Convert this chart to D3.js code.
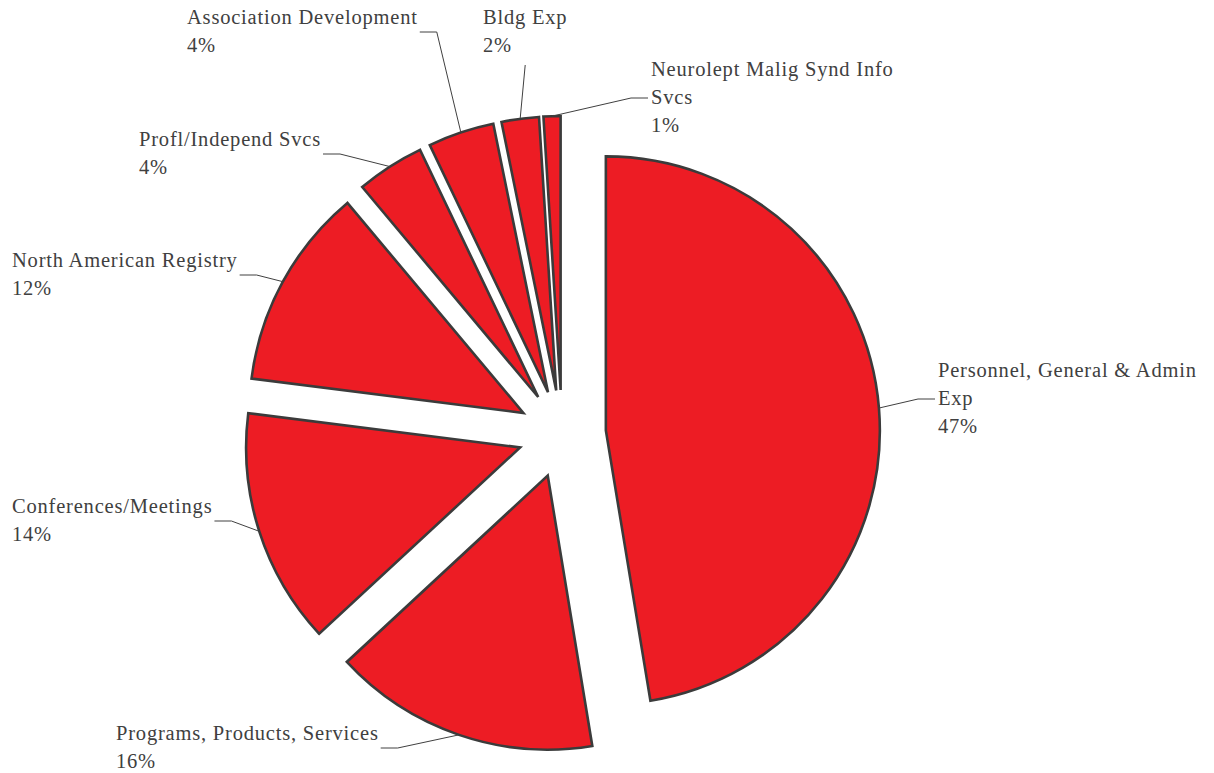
<!DOCTYPE html>
<html>
<head>
<meta charset="utf-8">
<script src="https://cdn.jsdelivr.net/npm/d3@7"></script>
<style>
  body { margin: 0; background: #fff; }
  svg { display: block; }
</style>
</head>
<body>
<div id="wrapper"></div>
<script>
// exploded pie of expense categories, clockwise from 12 o'clock

const categories = [
  "Personnel, General & Admin Exp",
  "Programs, Products, Services",
  "Conferences/Meetings",
  "North American Registry",
  "Profl/Independ Svcs",
  "Association Development",
  "Bldg Exp",
  "Neurolept Malig Synd Info Svcs"
]
const shares = [47.4, 15.7, 13.9, 11.9, 4.0, 3.9, 2.2, 1.0]

// label layout: left x, first baseline, where the leader attaches, wrap width
const labelLayout = [
  { x: 938, y: 377, side: "left", wrap: 275 },
  { x: 116, y: 740, side: "right", wrap: 330 },
  { x: 12, y: 513, side: "right", wrap: 330 },
  { x: 12, y: 267, side: "right", wrap: 330 },
  { x: 139, y: 146, side: "right", wrap: 330 },
  { x: 187, y: 24, side: "right", wrap: 330 },
  { x: 483, y: 24, side: "bottom", wrap: 330 },
  { x: 651, y: 76, side: "left", wrap: 252 }
]

const dimensions = {
  width: 1214,
  height: 773,
  cx: 562,
  cy: 434,
  radius: 274,
  explode: 44,
  lineHeight: 28
}

const data = categories.map((name, i) => ({ name, value: shares[i], i }))

const svg = d3.select("#wrapper")
  .append("svg")
  .attr("width", dimensions.width)
  .attr("height", dimensions.height)

const bounds = svg.append("g")
  .attr("transform", `translate(${dimensions.cx},${dimensions.cy})`)

const pie = d3.pie()
  .sort(null)
  .value(d => d.value)

const arcs = pie(data)

const arc = d3.arc()
  .innerRadius(0)
  .outerRadius(dimensions.radius)

const midAngle = d => (d.startAngle + d.endAngle) / 2
const offsetOf = d => [
  Math.sin(midAngle(d)) * dimensions.explode,
  -Math.cos(midAngle(d)) * dimensions.explode
]

// slices
bounds.append("g")
  .selectAll("path")
  .data(arcs)
  .join("path")
  .attr("d", arc)
  .attr("transform", d => `translate(${offsetOf(d)})`)
  .attr("fill", "#ED1C24")
  .attr("stroke", "#3b3b3b")
  .attr("stroke-width", 2.6)
  .attr("stroke-linejoin", "miter")

// labels
const labelGroup = svg.append("g")
  .attr("font-family", "Liberation Serif")
  .attr("font-size", 20.5)
  .attr("letter-spacing", 0.8)
  .attr("fill", "#404040")

const leaderGroup = svg.append("g")
  .attr("fill", "none")
  .attr("stroke", "#404040")
  .attr("stroke-width", 1)

arcs.forEach((d, i) => {
  const lay = labelLayout[i]
  const pct = Math.round(d.data.value) + "%"

  const text = labelGroup.append("text")
    .attr("x", lay.x)
    .attr("y", lay.y)

  // wrap the name into lines no wider than lay.wrap
  const words = d.data.name.split(" ")
  let lines = []
  let current = []
  const probe = text.append("tspan").attr("x", lay.x)
  words.forEach(w => {
    const attempt = current.concat(w).join(" ")
    probe.text(attempt)
    if (probe.node().getComputedTextLength() > lay.wrap && current.length) {
      lines.push(current.join(" "))
      current = [w]
    } else {
      current.push(w)
    }
  })
  lines.push(current.join(" "))
  probe.remove()
  lines.push(pct)

  text.selectAll("tspan")
    .data(lines)
    .join("tspan")
    .attr("x", lay.x)
    .attr("dy", (l, k) => k === 0 ? 0 : dimensions.lineHeight)
    .text(l => l)

  const box = text.node().getBBox()
  const n = lines.length
  const midY = lay.y + (n - 1) * dimensions.lineHeight / 2 - 6

  // point on the outer arc at the slice's middle angle
  const [ox, oy] = offsetOf(d)
  const a = midAngle(d)
  const tip = [
    dimensions.cx + ox + Math.sin(a) * dimensions.radius,
    dimensions.cy + oy - Math.cos(a) * dimensions.radius
  ]

  let pts
  if (lay.side === "right") {
    const sx = box.x + box.width + 2
    pts = [[sx, midY], [sx + 17, midY], tip]
  } else if (lay.side === "left") {
    const sx = lay.x - 3
    pts = [[sx, midY], [sx - 17, midY], tip]
  } else {
    const bx = box.x + box.width / 2
    const by = lay.y + (n - 1) * dimensions.lineHeight + 13
    pts = [[bx, by], tip]
  }

  leaderGroup.append("path")
    .attr("d", d3.line()(pts))
})
</script>
</body>
</html>
